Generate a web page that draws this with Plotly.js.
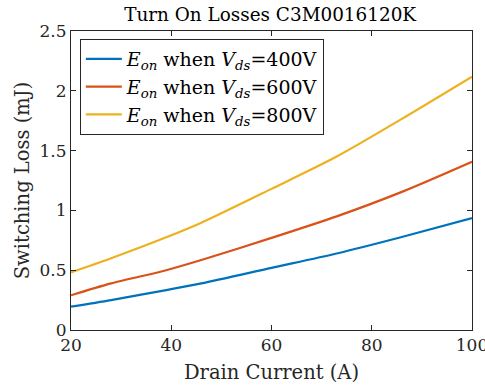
<!DOCTYPE html>
<html>
<head>
<meta charset="utf-8">
<script src="https://cdn.plot.ly/plotly-3.0.1.min.js"></script>
<style>html,body{margin:0;padding:0;background:#fff;}#chart{width:485px;height:390px;}</style>
</head>
<body>
<div id="chart"></div>
<script>
var current = [20, 28, 39, 46, 60, 73, 86, 100];
var eon400 = [0.195, 0.25, 0.334, 0.39, 0.52, 0.64, 0.778, 0.936];
var eon600 = [0.29, 0.39, 0.50, 0.585, 0.77, 0.95, 1.155, 1.407];
var eon800 = [0.482, 0.60, 0.775, 0.897, 1.18, 1.45, 1.765, 2.118];
var seriesNames = [
  '<i>E</i><sub><i>on</i></sub> when <i>V</i><sub><i>ds</i></sub>=400V',
  '<i>E</i><sub><i>on</i></sub> when <i>V</i><sub><i>ds</i></sub>=600V',
  '<i>E</i><sub><i>on</i></sub> when <i>V</i><sub><i>ds</i></sub>=800V'
];
var colors = ['#0072BD', '#D95319', '#EDB120'];
var xTicks = [20, 40, 60, 80, 100];
var yTicks = [0, 0.5, 1, 1.5, 2, 2.5];
var yTickText = ['0', '0.5', '1', '1.5', '2', '2.5'];

var ys = [eon400, eon600, eon800];
var traces = ys.map(function (y, i) {
  return {x: current, y: y, type: 'scatter', mode: 'lines', name: seriesNames[i],
          line: {color: colors[i], width: 2.2, shape: 'spline', smoothing: 0.8}};
});
var fam = 'DejaVu Serif, serif';
var font = {family: fam, size: 17, color: '#262626'};
var labelFont = {family: fam, size: 19.5, color: '#262626'};
var layout = {
  width: 485, height: 390,
  margin: {l: 71, r: 13, t: 31, b: 60},
  paper_bgcolor: '#fff', plot_bgcolor: '#fff',
  font: font,
  title: {text: 'Turn On Losses C3M0016120K', font: {family: fam, size: 18.4, color: '#000'},
          x: 0.557, xanchor: 'center', y: 0.963, yanchor: 'middle'},
  xaxis: {range: [20, 100], tickvals: xTicks, ticktext: xTicks.map(String),
          ticks: 'inside', ticklen: 5, tickcolor: '#262626', showline: true, linecolor: '#262626',
          linewidth: 1, mirror: 'ticks', showgrid: false, zeroline: false, ticklabeloverflow: 'allow',
          title: {text: 'Drain Current (A)', font: labelFont, standoff: 10}},
  yaxis: {range: [0, 2.5], tickvals: yTicks, ticktext: yTickText,
          ticks: 'inside', ticklen: 5, tickcolor: '#262626', showline: true, linecolor: '#262626',
          linewidth: 1, mirror: 'ticks', showgrid: false, zeroline: false,
          title: {text: 'Switching Loss (mJ)', font: labelFont, standoff: 4}},
  showlegend: true,
  legend: {x: 0.022, y: 0.973, xanchor: 'left', yanchor: 'top', bgcolor: '#fff',
           bordercolor: '#262626', borderwidth: 1, font: {family: fam, size: 19, color: '#000'},
           itemwidth: 36, tracegroupgap: 0}
};
Plotly.newPlot('chart', traces, layout, {staticPlot: true});
</script>
</body>
</html>
